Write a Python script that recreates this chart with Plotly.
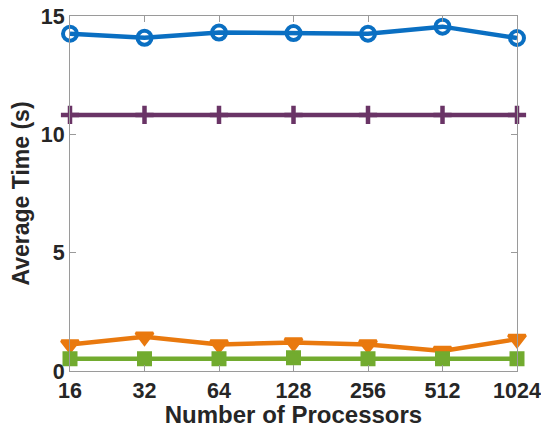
import plotly.graph_objects as go

processors = [16, 32, 64, 128, 256, 512, 1024]
tick_labels = ["16", "32", "64", "128", "256", "512", "1024"]
blue_vals = [14.25, 14.08, 14.3, 14.28, 14.25, 14.55, 14.07]
purple_vals = [10.82, 10.82, 10.82, 10.82, 10.82, 10.82, 10.82]
orange_vals = [1.12, 1.45, 1.12, 1.2, 1.12, 0.85, 1.35]
green_vals = [0.52, 0.52, 0.52, 0.56, 0.52, 0.52, 0.52]

series = [
    (blue_vals, "#0A6FC2", "circle-open", 14, 4),
    (purple_vals, "#6A3466", "cross-thin-open", 13, 4.5),
    (orange_vals, "#E9790E", "triangle-down", 15, 3),
    (green_vals, "#72AB2F", "square", 12, 3),
]

FONT = "Liberation Sans, Arial, Helvetica"

fig = go.Figure()
for vals, color, sym, size, lw in series:
    fig.add_trace(go.Scatter(
        x=processors, y=vals, mode="lines+markers",
        line=dict(color=color, width=4.5),
        marker=dict(symbol=sym, size=size, color=color,
                    line=dict(color=color, width=lw)),
        showlegend=False, cliponaxis=False,
    ))

axis_common = dict(
    showline=True, linecolor="#9a9a9a", linewidth=1, mirror="ticks",
    ticks="inside", ticklen=6, tickcolor="#9a9a9a", showgrid=False, zeroline=False,
    automargin=False, ticklabeloverflow="allow",
    tickfont=dict(family=FONT, size=21.5, color="#262626", weight="bold"),
)

fig.update_xaxes(
    type="log", range=[1.2041, 3.0103], tickvals=processors, ticktext=tick_labels,
    title=dict(text="<b>Number of Processors</b>", standoff=2,
               font=dict(family=FONT, size=24, color="#262626")),
    **axis_common,
)
fig.update_yaxes(
    range=[0, 15], tickvals=[0, 5, 10, 15], ticktext=["0", "5", "10", "15"],
    title=dict(text="<b>Average Time (s)</b>", standoff=4,
               font=dict(family=FONT, size=23, color="#262626")),
    **axis_common,
)
fig.update_layout(
    width=541, height=428,
    margin=dict(l=70, r=24, t=16, b=57),
    plot_bgcolor="white", paper_bgcolor="white",
    font=dict(family=FONT, color="#262626"),
)
fig.write_html("out.html",
               config={"displayModeBar": False},
               post_script="document.body.style.margin='0';document.body.style.overflow='hidden';")
